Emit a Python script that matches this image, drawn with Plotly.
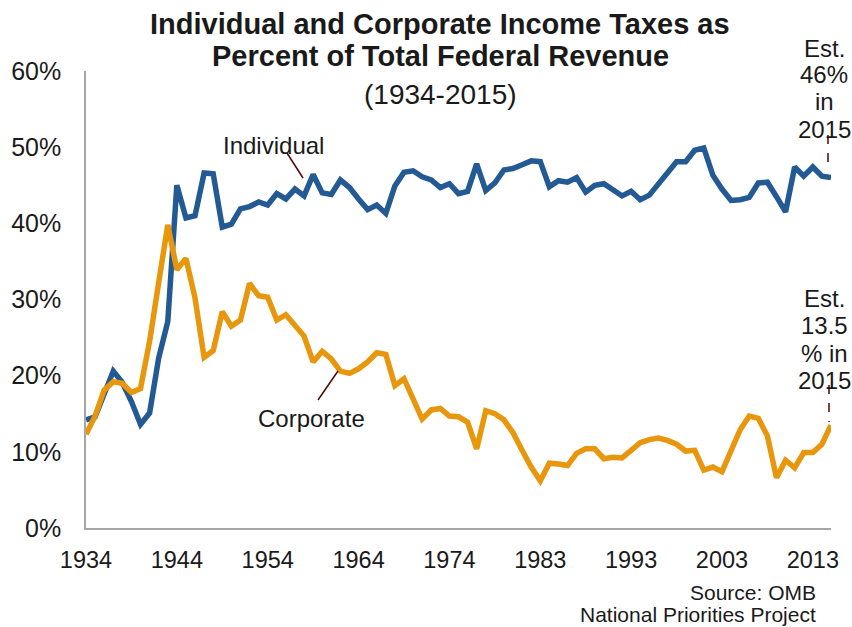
import plotly.graph_objects as go

years = [str(y) for y in range(1934, 1977)] + ["TQ"] + [str(y) for y in range(1977, 2016)]

individual = [14.2, 14.6, 17.6, 20.6, 19.1, 16.6, 13.6, 15.1, 22.3, 27.1,
              45.0, 40.7, 41.0, 46.6, 46.5, 39.5, 39.9, 41.9, 42.2, 42.8,
              42.4, 43.9, 43.2, 44.5, 43.6, 46.4, 44.0, 43.8, 45.7, 44.7,
              43.2, 41.8, 42.4, 41.3, 44.9, 46.7, 46.9, 46.1, 45.7, 44.7,
              45.2, 43.9, 44.2, 47.8, 44.3, 45.3, 47.0, 47.2, 47.7, 48.2,
              48.1, 44.8, 45.6, 45.4, 46.0, 44.1, 45.0, 45.2, 44.4, 43.6,
              44.2, 43.1, 43.7, 45.2, 46.7, 48.1, 48.1, 49.6, 49.9, 46.3,
              44.5, 43.0, 43.1, 43.4, 45.3, 45.4, 43.5, 41.5, 47.4, 46.2,
              47.4, 46.2, 46.0]

corporate = [12.3, 14.7, 18.1, 19.2, 19.0, 17.8, 18.3, 24.5, 32.2, 39.8,
             33.9, 35.4, 30.2, 22.4, 23.3, 28.4, 26.5, 27.3, 32.1, 30.5,
             30.3, 27.3, 28.0, 26.5, 25.2, 21.8, 23.2, 22.2, 20.6, 20.3,
             20.9, 21.8, 23.0, 22.8, 18.7, 19.6, 17.0, 14.3, 15.5, 15.7,
             14.7, 14.6, 13.9, 10.4, 15.4, 15.0, 14.2, 12.5, 10.2, 8.0,
             6.2, 8.5, 8.4, 8.2, 9.8, 10.4, 10.4, 9.1, 9.3, 9.2,
             10.2, 11.2, 11.6, 11.8, 11.5, 11.0, 10.1, 10.2, 7.6, 8.0,
             7.4, 10.1, 12.9, 14.7, 14.4, 12.1, 6.6, 8.9, 7.9, 9.9,
             9.9, 11.0, 13.5]

tick_labels = years[::10]
y_ticks = [0, 10, 20, 30, 40, 50, 60]
y_tick_text = ["0%", "10%", "20%", "30%", "40%", "50%", "60%"]

title_lines = ["<b>Individual and Corporate Income Taxes as</b>",
               "<b>Percent of Total Federal Revenue</b>",
               "(1934-2015)"]
est_ind_lines = ["Est.", "46%", "in", "2015"]
est_corp_lines = ["Est.", "13.5", "% in", "2015"]

BLUE = "#245A93"
ORANGE = "#E8960C"
LEADER = "#4A0A0A"
TXT = "#1a1a1a"
FONT = "Liberation Sans, Arial, sans-serif"

W, H = 852, 627
L, R, T, B = 86, 21, 71, 99
PW, PH = W - L - R, H - T - B


def px_x(px):
    return (px - L) / PW


def px_y(py):
    return (H - B - py) / PH


fig = go.Figure()
fig.add_trace(go.Scatter(x=years, y=individual, mode="lines", name="Individual",
                         line=dict(color=BLUE, width=5.5), cliponaxis=False))
fig.add_trace(go.Scatter(x=years, y=corporate, mode="lines", name="Corporate",
                         line=dict(color=ORANGE, width=5.5), cliponaxis=False))

n = len(years)
fig.update_layout(
    width=W, height=H,
    margin=dict(l=L, r=R, t=T, b=B),
    paper_bgcolor="white", plot_bgcolor="white",
    showlegend=False,
    font=dict(family=FONT, size=24, color=TXT),
    xaxis=dict(type="category", range=[0, n - 1], tickmode="array",
               tickvals=tick_labels, ticktext=tick_labels,
               showgrid=False, zeroline=False, showline=True,
               linecolor="#A6A6A6", linewidth=1.5, ticks="",
               tickfont=dict(size=23.5, color=TXT), ticklabelstandoff=10),
    yaxis=dict(range=[0, 60], tickmode="array", tickvals=y_ticks, ticktext=y_tick_text,
               showgrid=False, zeroline=False, showline=True,
               linecolor="#A6A6A6", linewidth=1.5, ticks="",
               tickfont=dict(size=25, color=TXT), ticklabelstandoff=18),
)


def label(txt, px, py, size=24, xanchor="center"):
    fig.add_annotation(text=txt, xref="paper", yref="paper", x=px_x(px), y=px_y(py),
                       xanchor=xanchor, yanchor="middle", showarrow=False,
                       font=dict(size=size, color=TXT, family=FONT))


for txt, py, sz in zip(title_lines, [24, 56, 94], [29, 29, 28]):
    label(txt, 440, py, sz)

label("Individual", 273, 145)
label("Corporate", 311, 418)

for txt, py in zip(est_ind_lines, [48, 75, 102, 129]):
    label(txt, 824, py)
for txt, py in zip(est_corp_lines, [298, 325, 353, 380]):
    label(txt, 824, py)

# leader lines
fig.add_shape(type="line", xref="paper", yref="paper", x0=px_x(287), y0=px_y(153),
              x1=px_x(303), y1=px_y(178), line=dict(color=LEADER, width=1.5))
fig.add_shape(type="line", xref="paper", yref="paper", x0=px_x(318), y0=px_y(400),
              x1=px_x(338), y1=px_y(371), line=dict(color=LEADER, width=1.5))
fig.add_shape(type="line", xref="paper", yref="paper", x0=px_x(828), y0=px_y(135),
              x1=px_x(828), y1=px_y(171), line=dict(color=LEADER, width=1.5, dash="dash"))
fig.add_shape(type="line", xref="paper", yref="paper", x0=px_x(829), y0=px_y(385),
              x1=px_x(829), y1=px_y(422), line=dict(color=LEADER, width=1.5, dash="dash"))

label("Source: OMB", 818, 592, 21, "right")
label("National Priorities Project", 818, 614, 21, "right")

fig.write_html("out.html")
